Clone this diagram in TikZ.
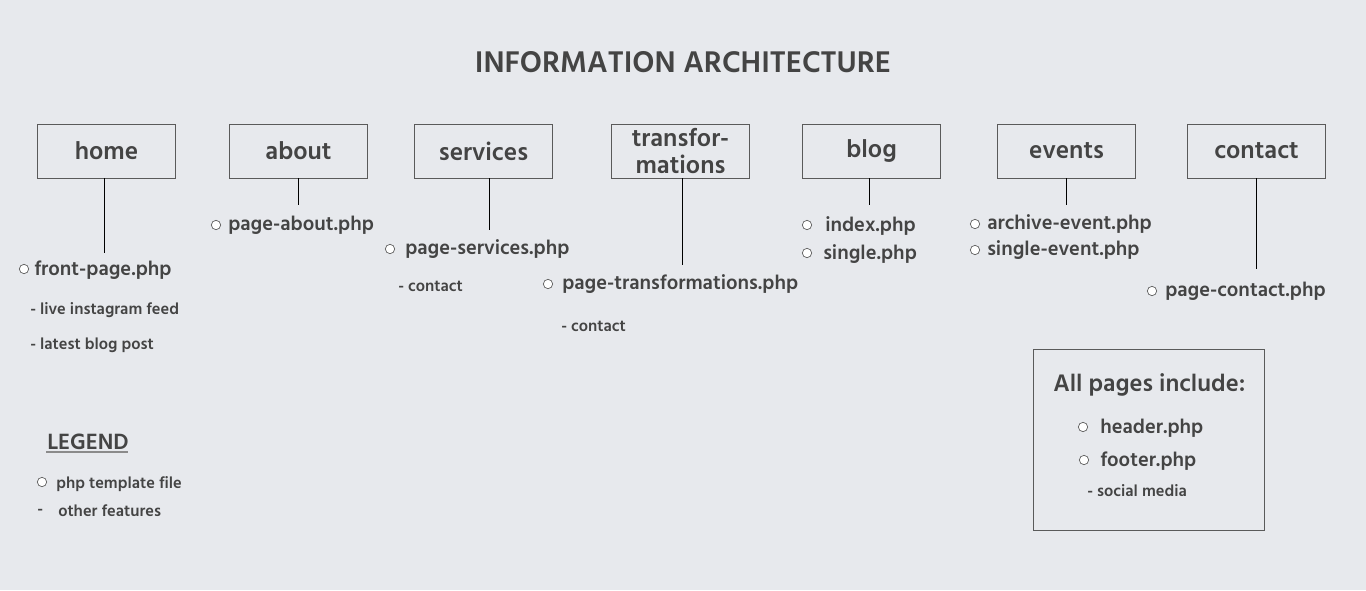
\documentclass[tikz,border=0pt]{standalone}
\usepackage{fontspec}
\setmainfont{Hind Madurai}
\usepackage{tikz}
\usetikzlibrary{positioning}
\definecolor{bgcol}{HTML}{E7E9ED}
\definecolor{ink}{HTML}{444444}
\definecolor{edge}{HTML}{5A5A5A}

\begin{document}
\begin{tikzpicture}[
  x=0.75pt,y=-0.75pt,
  every node/.style={text=ink},
  page/.style={draw=edge,line width=0.6pt,minimum width=104pt,minimum height=40.5pt,
    inner sep=0pt,align=center,font=\fontsize{19}{20.5}\selectfont\bfseries},
  link/.style={draw=black,line width=0.6pt},
  file/.style={anchor=west,inner sep=0pt,yshift=-1.5pt,font=\fontsize{15.3}{17}\selectfont\bfseries},
  feat/.style={anchor=west,inner sep=0pt,yshift=-1.5pt,font=\fontsize{12.3}{14}\selectfont\bfseries},
  dot/.style={circle,draw=edge,fill=white,line width=0.5pt,minimum size=7pt,inner sep=0pt},
]
\fill[bgcol] (0,0) rectangle (1366,590);
\useasboundingbox (0,0) rectangle (1366,590);

\node[font=\fontsize{23}{25}\selectfont\bfseries] (title) at (683,62) {INFORMATION ARCHITECTURE};

% top level pages
\node[page] (home) at (106.5,151) {home};
\node[page] (about) at (298.5,151) {about};
\node[page] (services) at (483.5,151) {services};
\node[page] (trans) at (680.5,151) {transfor-\\mations};
\node[page] (blog) at (871.5,151) {blog};
\node[page] (events) at (1066.5,151) {events};
\node[page] (contact) at (1256.5,151) {contact};

% connector ends
\coordinate (homeend) at (104,253);
\coordinate (aboutend) at (298,205);
\coordinate (servicesend) at (489,230);
\coordinate (transend) at (682,265);
\coordinate (blogend) at (869,205);
\coordinate (eventsend) at (1066,205);
\coordinate (contactend) at (1256,269);
\foreach \p in {home,about,services,trans,blog,events,contact}
  \draw[link] (\p end |- \p.south) -- (\p end);

% template files
\node[dot] (d1) at (24,269) {};
\node[file] (frontpage) at (34,268) {front-page.php};
\node[feat] (insta) at (30,308) {- live instagram feed};
\node[feat] (latest) at (30,343) {- latest blog post};

\node[dot] (d2) at (216,225) {};
\node[file] (pabout) at (228,223) {page-about.php};

\node[dot] (d3) at (390,249) {};
\node[file] (pserv) at (405,247) {page-services.php};
\node[feat] (servcont) at (398,284) {- contact};

\node[dot] (d4) at (548,284) {};
\node[file] (ptrans) at (562,282) {page-transformations.php};
\node[feat] (transcont) at (561,324) {- contact};

\node[dot] (d5) at (807,225) {};
\node[file] (index) at (825,224) {index.php};
\node[dot] (d6) at (807,253) {};
\node[file] (single) at (823,252) {single.php};

\node[dot] (d7) at (975,224) {};
\node[file] (archive) at (987,222) {archive-event.php};
\node[dot] (d8) at (975,250) {};
\node[file] (sevent) at (987,248) {single-event.php};

\node[dot] (d9) at (1152,291) {};
\node[file] (pcontact) at (1165,289) {page-contact.php};

% legend
\node[anchor=west,inner sep=0pt,font=\fontsize{17}{19}\selectfont\bfseries] (legend) at (47,442) {LEGEND};
\draw[edge!70,line width=1.5pt] (46,452) -- (128,452);
\node[dot] (ld) at (42,482) {};
\node[feat] (ltpl) at (56,482) {php template file};
\node[feat] (ldash) at (37,510) {-};
\node[feat] (lfeat) at (58,509) {other features};

% shared includes
\draw[edge,line width=0.6pt] (1033,349) rectangle (1264,530);
\node[anchor=west,inner sep=0pt,font=\fontsize{18.4}{20}\selectfont\bfseries] (allpages) at (1053,385) {All pages include:};
\node[dot] (hd) at (1083,427) {};
\node[file] (header) at (1100,426) {header.php};
\node[dot] (fd) at (1084,460) {};
\node[file] (footer) at (1100,459) {footer.php};
\node[feat] (social) at (1087,489) {- social media};
\end{tikzpicture}
\end{document}
